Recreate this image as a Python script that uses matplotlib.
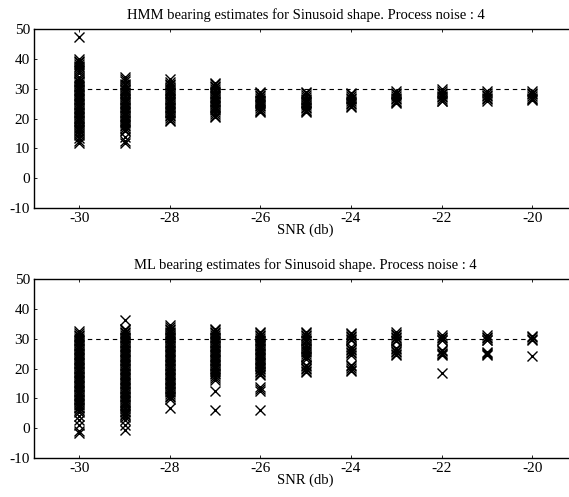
import matplotlib
matplotlib.use("Agg")
import matplotlib.pyplot as plt

plt.rcParams['font.family'] = ['Liberation Serif', 'DejaVu Serif']

snr = [-30, -29, -28, -27, -26, -25, -24, -23, -22, -21, -20]
true_bearing = 30

# HMM estimates per SNR
hmm = {
    -30: [47.2, 40.1, 39.4, 38.8, 38.2, 37.7, 37.1, 36.5, 35.9, 35.3, 34.0, 33.2,
          32.7, 32.1, 31.6, 31.0, 30.5, 30.0, 29.4, 28.9, 28.3, 27.8, 27.2, 26.7,
          26.1, 25.6, 25.0, 24.5, 23.9, 23.4, 22.8, 22.3, 21.7, 21.2, 20.6, 20.1,
          19.5, 19.0, 18.4, 17.9, 17.3, 16.8, 16.2, 15.7, 15.1, 14.6, 13.3, 12.4,
          11.8],
    -29: [33.9, 33.2, 32.6, 31.7, 31.1, 30.6, 30.0, 29.5, 28.9, 28.4, 27.8, 27.3,
          26.7, 26.2, 25.6, 25.1, 24.5, 24.0, 23.4, 22.9, 22.3, 21.8, 21.2, 20.7,
          20.1, 19.6, 19.0, 18.5, 17.9, 17.4, 16.8, 16.3, 15.8, 13.8, 12.6, 11.9],
    -28: [33.1, 32.3, 31.7, 31.1, 30.6, 30.0, 29.5, 28.9, 28.4, 27.8, 27.3, 26.7,
          26.2, 25.6, 25.1, 24.5, 24.0, 23.4, 22.9, 22.3, 21.8, 21.2, 20.7, 20.1,
          19.6, 19.1],
    -27: [32.0, 31.5, 30.9, 30.4, 29.8, 29.3, 28.7, 28.2, 27.6, 27.1, 26.5, 26.0,
          25.4, 24.9, 24.3, 23.8, 23.2, 22.7, 22.1, 21.6, 21.0, 20.6],
    -26: [29.0, 28.5, 27.9, 27.4, 26.8, 26.3, 25.7, 25.2, 24.6, 24.1, 23.5, 23.0,
          22.5, 22.1],
    -25: [28.9, 28.4, 27.8, 27.3, 26.7, 26.2, 25.6, 25.1, 24.5, 24.0, 23.4, 22.9,
          22.5, 22.2],
    -24: [28.6, 28.1, 27.5, 27.0, 26.4, 25.9, 25.3, 24.8, 24.3, 24.0],
    -23: [29.2, 28.7, 28.1, 27.6, 27.0, 26.5, 25.9, 25.4, 25.1],
    -22: [29.8, 29.3, 28.7, 28.2, 27.6, 27.1, 26.5, 26.0, 25.7],
    -21: [29.1, 28.6, 28.0, 27.5, 26.9, 26.4, 26.0],
    -20: [29.2, 28.7, 28.1, 27.6, 27.0, 26.5, 26.1],
}

# ML estimates per SNR
ml = {
    -30: [32.5, 31.9, 31.3, 30.8, 30.2, 29.7, 29.1, 28.6, 28.0, 27.5, 26.9, 26.4,
          25.8, 25.3, 24.7, 24.2, 23.6, 23.1, 22.5, 22.0, 21.4, 20.9, 20.3, 19.8,
          19.2, 18.7, 18.1, 17.6, 17.0, 16.5, 15.9, 15.4, 14.8, 14.3, 13.7, 13.2,
          12.6, 12.1, 11.5, 11.0, 10.4, 9.9, 9.3, 8.8, 8.2, 7.7, 7.1, 6.6, 6.0,
          5.5, 4.2, 2.6, 0.9, -1.0, -1.6],
    -29: [36.2, 33.4, 32.9, 32.3, 31.8, 31.2, 30.7, 30.1, 29.6, 29.0, 28.5, 27.9,
          27.4, 26.8, 26.3, 25.7, 25.2, 24.6, 24.1, 23.5, 23.0, 22.4, 21.9, 21.3,
          20.8, 20.2, 19.7, 19.1, 18.6, 18.0, 17.5, 16.9, 16.4, 15.8, 15.3, 14.7,
          14.2, 13.6, 13.1, 12.5, 12.0, 11.4, 10.9, 10.3, 9.8, 9.2, 8.7, 8.1, 7.6,
          7.0, 6.5, 5.9, 5.4, 4.8, 4.3, 3.6, 2.6, 1.1, -0.5],
    -28: [34.7, 34.0, 33.4, 32.9, 32.3, 31.8, 31.2, 30.7, 30.1, 29.6, 29.0, 28.5,
          27.9, 27.4, 26.8, 26.3, 25.7, 25.2, 24.6, 24.1, 23.5, 23.0, 22.4, 21.9,
          21.3, 20.8, 20.2, 19.7, 19.1, 18.6, 18.0, 17.5, 16.9, 16.4, 15.8, 15.3,
          14.7, 14.2, 13.6, 13.1, 12.5, 12.0, 11.4, 10.9, 10.3, 9.8, 6.9],
    -27: [33.4, 32.9, 32.3, 31.8, 31.2, 30.7, 30.1, 29.6, 29.0, 28.5, 27.9, 27.4,
          26.8, 26.3, 25.7, 25.2, 24.6, 24.1, 23.5, 23.0, 22.4, 21.9, 21.3, 20.8,
          20.2, 19.7, 19.1, 18.6, 18.0, 17.5, 16.9, 16.3, 12.4, 6.0],
    -26: [32.4, 31.9, 31.3, 30.8, 30.2, 29.7, 29.1, 28.6, 28.0, 27.5, 26.9, 26.4,
          25.8, 25.3, 24.7, 24.2, 23.6, 23.1, 22.5, 22.0, 21.4, 20.9, 20.3, 19.8,
          19.2, 18.7, 18.1, 17.7, 13.7, 13.0, 12.3, 6.2],
    -25: [32.4, 31.9, 31.3, 30.8, 30.2, 29.7, 29.2, 28.1, 27.6, 27.0, 26.5, 25.9,
          25.4, 24.8, 24.3, 23.7, 23.2, 21.3, 20.8, 20.2, 19.7, 19.2, 18.8],
    -24: [32.0, 31.5, 30.9, 30.4, 29.9, 29.5, 27.2, 26.7, 26.1, 25.6, 25.1, 24.6,
          21.2, 20.7, 20.1, 19.6, 19.3],
    -23: [32.3, 31.7, 31.2, 30.6, 30.1, 29.6, 29.2, 27.0, 26.5, 25.9, 25.4, 24.9,
          24.5],
    -22: [31.2, 30.7, 30.2, 29.7, 29.4, 26.3, 25.8, 25.3, 24.8, 24.4, 18.6],
    -21: [31.1, 30.6, 30.1, 29.7, 29.5, 25.6, 25.1, 24.7, 24.4],
    -20: [31.0, 30.5, 30.0, 29.6, 24.3],
}

titles = ["HMM bearing estimates for Sinusoid shape. Process noise : 4",
          "ML bearing estimates for Sinusoid shape. Process noise : 4"]
yticks = [-10, 0, 10, 20, 30, 40, 50]
xticks = [-30, -28, -26, -24, -22, -20]

fig = plt.figure(figsize=(5.69, 4.97), dpi=100)
axes_pos = [[34 / 569, 1 - 208 / 497, 1.0148 - 34 / 569, 179 / 497],
            [34 / 569, 1 - 458 / 497, 1.0148 - 34 / 569, 179 / 497]]

for pos, data, title in zip(axes_pos, [hmm, ml], titles):
    ax = fig.add_axes(pos)
    for s in snr:
        ys = data[s]
        ax.plot([s] * len(ys), ys, linestyle='none', marker='x', color='black',
                markersize=6.5, markeredgewidth=1.0)
    ax.plot([snr[0], snr[-1]], [true_bearing, true_bearing], color='black',
            linewidth=0.8, dashes=(4, 3.5))
    ax.set_xlim(-31, -19)
    ax.set_ylim(-10, 50)
    ax.set_xticks(xticks)
    ax.set_yticks(yticks)
    ax.set_xticklabels([str(t) for t in xticks])
    ax.set_yticklabels([str(t) for t in yticks])
    ax.tick_params(direction='in', length=2, width=0.6, top=True, right=True,
                   labelsize=11, pad=3)
    for sp in ax.spines.values():
        sp.set_linewidth(1.0)
    ax.set_title(title, fontsize=10.5, pad=7)
    ax.set_xlabel("SNR (db)", fontsize=10.5, labelpad=-1)

fig.savefig("out.png", dpi=100)
